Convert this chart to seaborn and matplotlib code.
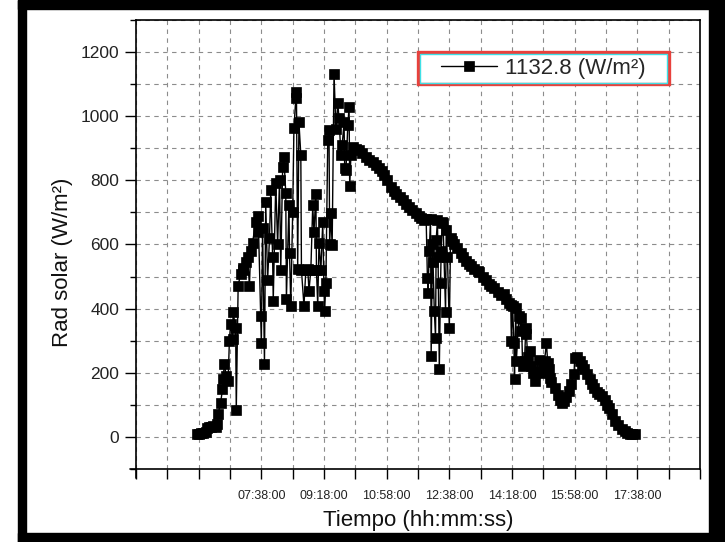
import pandas as pd
import matplotlib.pyplot as plt
import seaborn as sns
from matplotlib.patches import Rectangle
from matplotlib.ticker import FixedLocator

# Solar radiation readings (time of day, W/m2)
times = [
    "05:56", "05:59", "06:02", "06:05", "06:09", "06:12", "06:15", "06:18", "06:21", "06:25",
    "06:28", "06:29", "06:33", "06:36", "06:37", "06:39", "06:42", "06:45", "06:47", "06:49",
    "06:52", "06:53", "06:57", "06:58", "07:01", "07:05", "07:08", "07:09", "07:13", "07:16",
    "07:19", "07:21", "07:24", "07:29", "07:32", "07:33", "07:37", "07:38", "07:40", "07:43",
    "07:45", "07:48", "07:51", "07:53", "07:56", "07:57", "08:01", "08:04", "08:07", "08:09",
    "08:12", "08:14", "08:17", "08:18", "08:22", "08:23", "08:25", "08:28", "08:30", "08:33",
    "08:34", "08:36", "08:38", "08:41", "08:42", "08:46", "08:49", "08:52", "08:54", "08:57",
    "09:00", "09:02", "09:05", "09:06", "09:08", "09:10", "09:13", "09:16", "09:18", "09:19",
    "09:21", "09:24", "09:26", "09:27", "09:29", "09:31", "09:34", "09:37", "09:40", "09:42",
    "09:45", "09:47", "09:50", "09:51", "09:53", "09:56", "09:58", "09:59", "10:01", "10:04",
    "10:09", "10:14", "10:19", "10:25", "10:30", "10:36", "10:41", "10:46", "10:51", "10:54",
    "10:59", "11:05", "11:10", "11:13", "11:19", "11:24", "11:29", "11:34", "11:39", "11:45",
    "11:50", "11:53", "11:58", "12:01", "12:03", "12:04", "12:06", "12:08", "12:09", "12:11",
    "12:12", "12:14", "12:16", "12:17", "12:19", "12:20", "12:22", "12:24", "12:25", "12:27",
    "12:28", "12:32", "12:33", "12:35", "12:38", "12:40", "12:43", "12:46", "12:51", "12:56",
    "13:00", "13:05", "13:10", "13:13", "13:18", "13:23", "13:26", "13:31", "13:37", "13:42",
    "13:45", "13:50", "13:55", "14:01", "14:05", "14:08", "14:13", "14:16", "14:17", "14:19",
    "14:21", "14:22", "14:24", "14:25", "14:29", "14:32", "14:33", "14:35", "14:38", "14:40",
    "14:41", "14:43", "14:46", "14:49", "14:51", "14:54", "14:57", "15:01", "15:04", "15:07",
    "15:10", "15:13", "15:15", "15:17", "15:18", "15:21", "15:26", "15:31", "15:34", "15:38",
    "15:41", "15:44", "15:49", "15:52", "15:57", "15:58", "16:01", "16:06", "16:10", "16:13",
    "16:18", "16:22", "16:26", "16:29", "16:34", "16:37", "16:42", "16:46", "16:50", "16:53",
    "16:58", "17:02", "17:07", "17:14", "17:18", "17:22", "17:26", "17:30", "17:35",
]
rad = [
    10, 10, 12, 12, 15, 28, 30, 32, 35, 30,
    40, 72, 105, 150, 180, 228, 190, 175, 300, 353,
    306, 388, 340, 84, 472, 509, 520, 528, 545, 560,
    472, 580, 606, 669, 640, 690, 378, 294, 650, 228,
    731, 488, 620, 769, 560, 425, 791, 600, 800, 520,
    841, 872, 760, 430, 722, 572, 409, 700, 962, 1056,
    1075, 525, 981, 880, 520, 409, 520, 525, 456, 520,
    722, 638, 759, 520, 409, 606, 520, 669, 456, 394,
    480, 925, 956, 600, 697, 597, 1133, 960, 1040, 994,
    878, 910, 981, 840, 831, 972, 1029, 781, 880, 903,
    898, 894, 885, 872, 865, 856, 848, 838, 828, 816,
    800, 778, 768, 759, 748, 738, 726, 716, 708, 697,
    690, 682, 676, 681, 497, 450, 581, 680, 253, 600,
    544, 394, 309, 613, 675, 560, 213, 480, 581, 670,
    666, 388, 644, 560, 341, 620, 610, 603, 590, 575,
    560, 548, 540, 534, 524, 518, 513, 500, 488, 478,
    472, 463, 452, 441, 447, 430, 419, 412, 300, 409,
    294, 181, 403, 238, 378, 330, 372, 220, 238, 340,
    322, 250, 269, 220, 200, 175, 205, 240, 200, 215,
    238, 294, 230, 213, 184, 170, 153, 130, 115, 106,
    112, 125, 144, 165, 197, 247, 250, 238, 225, 212,
    197, 180, 165, 153, 140, 135, 128, 115, 100, 91,
    70, 50, 38, 25, 18, 12, 9, 8, 9,
]

# x axis: labelled ticks every 100 min, unlabeled minor ticks in between
tick_times = ["04:18", "05:58", "07:38", "09:18", "10:58", "12:38",
              "14:18", "15:58", "17:38", "19:18"]
tick_labels = ["", "", "07:38:00", "09:18:00", "10:58:00", "12:38:00",
               "14:18:00", "15:58:00", "17:38:00", ""]
legend_label = "1132.8 (W/m²)"


def to_minutes(t):
    h, m = t.split(":")
    return int(h) * 60 + int(m)


df = pd.DataFrame({"Tiempo": times, "Rad": rad})
df["minutos"] = df["Tiempo"].map(to_minutes)
major_pos = [to_minutes(t) for t in tick_times]
minor_pos = [(a + b) / 2 for a, b in zip(major_pos[:-1], major_pos[1:])]

sns.set_theme(style="ticks")
plt.rcParams["font.family"] = ["Liberation Sans", "DejaVu Sans"]

fig = plt.figure(figsize=(7.25, 5.42), dpi=100)
ax = fig.add_axes([0.1876, 0.1347, 0.7779, 0.8284])

sns.lineplot(
    data=df, x="minutos", y="Rad",
    estimator=None, sort=False,
    color="black", linewidth=1.0,
    marker="s", markersize=6.8,
    markeredgecolor="black", markeredgewidth=0.5,
    label=legend_label, ax=ax,
)

ax.set_xlim(major_pos[0], major_pos[-1])
ax.set_ylim(-100, 1300)
ax.xaxis.set_major_locator(FixedLocator(major_pos))
ax.xaxis.set_minor_locator(FixedLocator(minor_pos))
ax.set_xticklabels(tick_labels)
ax.set_yticks(range(0, 1201, 200))
ax.yaxis.set_minor_locator(FixedLocator(range(-100, 1301, 100)))

ax.grid(which="both", color="#8c8c8c", linestyle=(0, (4, 4)), linewidth=0.8)
ax.set_axisbelow(True)

for s in ax.spines.values():
    s.set_color("black")
    s.set_linewidth(1.2)

ax.tick_params(axis="x", which="both", direction="out", length=7, width=1,
               color="black", pad=8, labelsize=9, labelcolor="#222222")
ax.tick_params(axis="y", which="major", direction="out", length=8, width=1,
               color="black", pad=4, labelsize=12.5, labelcolor="#222222")
ax.tick_params(axis="y", which="minor", direction="out", length=4, width=1,
               color="black")

# Origin-style axis overhang at the lower left corner
ax.plot([-0.011, 0], [0, 0], transform=ax.transAxes, color="black", lw=1.2, clip_on=False)
ax.plot([0, 0], [-0.02, 0], transform=ax.transAxes, color="black", lw=1.2, clip_on=False)

ax.set_xlabel("Tiempo (hh:mm:ss)", fontsize=16, labelpad=6, color="#111111")
ax.set_ylabel("Rad solar (W/m²)", fontsize=16, color="#111111")
ax.yaxis.set_label_coords(-0.112, 0.46)

# legend sits between the 1100 and 1200 grid lines, red/cyan frame
leg = ax.legend(loc="center", bbox_to_anchor=(908, 1150), bbox_transform=ax.transData,
                frameon=False, fontsize=16, handlelength=2.5, handletextpad=0.35)
ax.add_patch(Rectangle((708, 1100), 400, 100, fill=True, facecolor="white",
                       edgecolor="#e8413c", linewidth=2.4, zorder=4))
ax.add_patch(Rectangle((710.5, 1104.5), 395, 91, fill=False,
                       edgecolor="#3fe0e6", linewidth=1.0, zorder=4))
leg.set_zorder(5)

# thick black frame around the picture
W, H = 725, 542
for x0, y0, w, h in [(18, 533, 707, 9), (18, 0, 8, 542), (709, 0, 16, 542), (18, 0, 707, 9)]:
    fig.add_artist(Rectangle((x0 / W, y0 / H), w / W, h / H, transform=fig.transFigure,
                             color="black", zorder=10))

fig.savefig("out.png", dpi=100)
